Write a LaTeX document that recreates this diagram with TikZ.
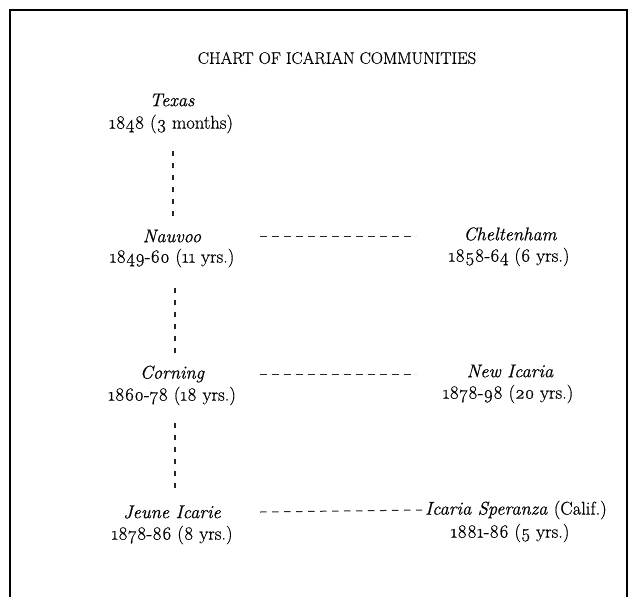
\documentclass[tikz,border=0pt]{standalone}
\usepackage{fontspec}
\setmainfont{Latin Modern Roman}[Numbers=OldStyle, FakeBold=0.6]
\begin{document}
\begin{tikzpicture}[x=1pt,y=-1pt,
  frame/.style={line width=1.6pt, black},
  title/.style={font=\fontsize{16.8}{19}\selectfont, text=black},
  cname/.style={font=\fontsize{18.5}{20}\selectfont\itshape, text=black, inner sep=1pt},
  cdate/.style={font=\fontsize{18.5}{20}\selectfont, text=black, inner sep=1pt},
  hdash/.style={line width=1pt, black!85, dash pattern=on 6.5pt off 5.5pt},
  vdash/.style={line width=1.3pt, black!85, dash pattern=on 5pt off 7pt}]
\useasboundingbox (0,0) rectangle (636,597);
\draw[frame] (10,597) -- (10,10) -- (627,10) -- (627,597);
\node[title] (title) at (337,58) {CHART OF ICARIAN COMMUNITIES};
% left column
\node[cname] (texas) at (172,100) {Texas};
\node[cdate] (texasd) at (171,124) {1848 (3 months)};
\node[cname] (nauvoo) at (172,236) {Nauvoo};
\node[cdate] (nauvood) at (172,258) {1849-60 (11 yrs.)};
\node[cname] (corning) at (172,374) {Corning};
\node[cdate] (corningd) at (172,396) {1860-78 (18 yrs.)};
\node[cname] (jeune) at (172,512) {Jeune Icarie};
\node[cdate] (jeuned) at (172,535) {1878-86 (8 yrs.)};
% right column
\node[cname] (chelt) at (510,234) {Cheltenham};
\node[cdate] (cheltd) at (509,257) {1858-64 (6 yrs.)};
\node[cname] (newic) at (510,371) {New Icaria};
\node[cdate] (newicd) at (508,394) {1878-98 (20 yrs.)};
\node[cname, anchor=west] (sper) at (424,510) {Icaria Speranza \upshape(Calif.)};
\node[cdate] (sperd) at (510,533) {1881-86 (5 yrs.)};
% line end coordinates
\coordinate (ls) at (260,0);
\coordinate (le) at (416,0);
\coordinate (vx1) at (173,0);
\coordinate (vx2) at (175,0);
% vertical connectors
\draw[vdash] (texasd.south -| vx1) ++(0,17) -- ([yshift=10pt]nauvoo.north -| vx1);
\draw[vdash] (nauvood.south -| vx2) ++(0,20) -- ([yshift=11pt]corning.north -| vx2);
\draw[vdash] (corningd.south -| vx2) ++(0,17) -- ([yshift=11pt]jeune.north -| vx2);
% horizontal connectors
\draw[hdash] (nauvoo.center -| ls) -- (nauvoo.center -| le);
\draw[hdash] (corning.center -| ls) -- (corning.center -| le);
\draw[hdash, shorten >=2pt] (jeune.center -| ls) -- (sper.west);
\end{tikzpicture}
\end{document}
